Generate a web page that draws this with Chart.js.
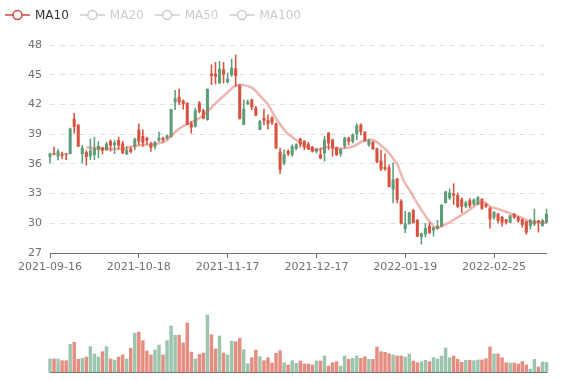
<!DOCTYPE html>
<html>
<head>
<meta charset="utf-8">
<script src="https://cdn.jsdelivr.net/npm/chart.js@4"></script>
<style>
  html, body { margin: 0; padding: 0; background: #fff; }
  #wrap { position: relative; width: 577px; height: 380px; }
  #kline { position: absolute; left: 0; top: 0; }
  #vol { position: absolute; left: 0; top: 285px; }
</style>
</head>
<body>
<div id="wrap">
  <canvas id="kline" width="577" height="285"></canvas>
  <canvas id="vol" width="577" height="95"></canvas>
</div>
<script>
// trading days (HOSE), ticks every 22 sessions
const dates = [
  '2021-09-16','2021-09-17','2021-09-20','2021-09-21','2021-09-22','2021-09-23','2021-09-24','2021-09-27','2021-09-28','2021-09-29',
  '2021-09-30','2021-10-01','2021-10-04','2021-10-05','2021-10-06','2021-10-07','2021-10-08','2021-10-11','2021-10-12','2021-10-13',
  '2021-10-14','2021-10-15','2021-10-18','2021-10-19','2021-10-20','2021-10-21','2021-10-22','2021-10-25','2021-10-26','2021-10-27',
  '2021-10-28','2021-10-29','2021-11-01','2021-11-02','2021-11-03','2021-11-04','2021-11-05','2021-11-08','2021-11-09','2021-11-10',
  '2021-11-11','2021-11-12','2021-11-15','2021-11-16','2021-11-17','2021-11-18','2021-11-19','2021-11-22','2021-11-23','2021-11-24',
  '2021-11-25','2021-11-26','2021-11-29','2021-11-30','2021-12-01','2021-12-02','2021-12-03','2021-12-06','2021-12-07','2021-12-08',
  '2021-12-09','2021-12-10','2021-12-13','2021-12-14','2021-12-15','2021-12-16','2021-12-17','2021-12-20','2021-12-21','2021-12-22',
  '2021-12-23','2021-12-24','2021-12-27','2021-12-28','2021-12-29','2021-12-30','2021-12-31','2022-01-04','2022-01-05','2022-01-06',
  '2022-01-07','2022-01-10','2022-01-11','2022-01-12','2022-01-13','2022-01-14','2022-01-17','2022-01-18','2022-01-19','2022-01-20',
  '2022-01-21','2022-01-24','2022-01-25','2022-01-26','2022-01-27','2022-01-28','2022-02-07','2022-02-08','2022-02-09','2022-02-10',
  '2022-02-11','2022-02-14','2022-02-15','2022-02-16','2022-02-17','2022-02-18','2022-02-21','2022-02-22','2022-02-23','2022-02-24',
  '2022-02-25','2022-02-28','2022-03-01','2022-03-02','2022-03-03','2022-03-04','2022-03-07','2022-03-08','2022-03-09','2022-03-10',
  '2022-03-11','2022-03-14','2022-03-15','2022-03-16'
];

const open = [
  36.7,37.05,36.77,37.0,37.03,37.03,40.53,39.93,37.03,37.17,
  36.77,36.93,37.43,37.6,37.43,38.27,37.93,38.37,38.03,37.0,
  37.5,37.76,39.44,38.77,38.6,38.03,37.76,38.37,38.6,38.6,
  38.77,42.24,42.74,42.37,42.14,40.05,39.78,42.14,41.36,40.45,
  45.1,45.07,44.16,45.5,44.26,45.0,45.6,43.9,39.95,42.04,
  42.47,41.63,39.44,40.62,40.39,40.62,40.05,37.2,36.08,37.26,
  36.92,37.53,38.5,38.27,38.0,37.7,37.27,36.93,37.1,39.1,
  38.43,37.6,37.03,37.83,38.6,38.27,39.03,39.93,39.2,37.93,
  38.17,37.53,36.3,35.65,35.6,33.45,34.5,32.23,29.45,29.95,
  31.3,30.3,28.63,28.9,29.7,29.28,29.45,29.7,32.06,32.56,
  32.97,32.83,32.4,31.73,32.3,31.93,31.93,32.43,31.93,31.5,
  30.6,30.93,30.6,30.37,30.1,30.93,30.6,30.37,30.17,29.77,
  29.93,30.27,29.77,30.1
];
const close = [
  37.0,36.95,37.23,36.87,36.93,39.53,39.77,37.77,37.6,36.73,
  37.33,37.53,37.77,37.37,38.0,37.87,38.1,37.87,37.1,37.37,
  37.25,38.5,38.27,38.16,38.37,37.66,38.16,38.6,38.43,38.84,
  41.46,42.58,42.24,42.07,39.95,39.71,41.36,41.3,40.62,43.55,
  44.9,44.83,45.57,45.07,44.56,45.67,44.9,40.6,41.53,42.24,
  41.73,40.9,40.29,40.39,40.05,40.19,37.59,35.45,36.92,37.02,
  37.76,37.93,38.0,37.7,37.5,37.27,37.5,36.6,38.43,38.1,
  37.6,36.93,37.43,38.6,38.27,38.93,39.83,39.27,38.37,38.33,
  37.53,36.2,35.5,35.48,33.7,34.4,32.4,30.0,29.95,31.05,
  30.05,28.7,28.94,29.5,29.04,29.55,29.7,31.83,33.17,33.06,
  32.83,31.7,31.73,32.06,31.8,32.37,32.6,31.5,31.7,30.43,
  31.1,30.27,30.1,30.1,30.77,30.6,30.27,29.87,29.1,30.27,
  30.27,30.1,30.27,30.93
];
const low = [
  36.1,36.9,36.4,36.5,36.43,37.0,39.1,37.77,36.1,35.87,
  36.43,36.43,36.6,37.0,37.33,37.27,37.03,37.5,37.03,36.93,
  37.1,37.42,37.93,37.76,38.0,37.26,37.5,38.27,38.2,38.5,
  38.7,41.46,41.97,41.53,39.95,39.1,39.71,41.13,40.52,40.4,
  44.0,44.06,44.16,44.16,44.16,44.83,43.8,40.5,39.95,41.97,
  41.46,40.86,39.44,39.95,39.5,39.95,37.59,35.0,35.9,36.82,
  36.75,37.42,37.7,37.43,37.43,37.17,37.1,36.5,36.27,37.43,
  36.77,36.83,36.77,37.6,37.93,38.1,38.43,38.93,38.27,37.77,
  37.43,36.1,35.3,35.35,33.67,32.06,32.06,29.9,29.04,29.9,
  30.05,28.63,27.9,28.63,28.97,28.7,29.38,29.7,32.06,32.4,
  31.9,31.56,31.06,31.56,31.6,31.8,31.85,31.4,31.6,29.5,
  30.4,30.0,29.7,29.9,30.05,30.5,30.1,29.6,28.9,29.4,
  29.77,29.1,29.7,30.0
];
const high = [
  37.1,37.7,37.5,37.2,37.03,39.6,41.1,39.93,37.87,37.33,
  38.5,38.67,38.27,37.7,38.2,38.43,38.37,38.7,38.27,37.77,
  37.67,38.6,40.05,39.44,38.7,38.2,38.27,39.2,38.7,38.94,
  41.53,43.42,43.55,42.47,42.14,40.29,41.63,42.3,41.53,43.55,
  46.0,46.25,46.35,46.25,45.17,46.58,47.0,44.0,42.47,42.47,
  42.54,41.8,40.39,41.53,40.96,40.8,40.12,37.6,37.42,37.42,
  37.93,38.03,38.6,38.37,38.17,37.77,37.6,37.6,38.77,39.17,
  38.5,37.7,37.53,38.7,38.7,39.03,40.03,40.03,39.27,38.5,
  38.27,37.6,37.4,37.0,35.9,36.1,34.5,32.4,31.2,31.12,
  31.4,30.4,29.04,30.0,30.05,29.6,30.3,31.9,33.23,33.47,
  34.0,33.06,32.56,32.23,32.5,32.5,32.7,32.5,32.0,31.6,
  31.2,31.0,30.7,30.4,30.8,31.0,30.7,30.45,30.2,30.4,
  31.43,30.3,30.4,31.43
];
const volume = [
  133,133,133,116,116,280,300,130,140,153,
  256,183,153,206,256,133,123,153,173,133,
  240,390,403,316,213,173,223,273,173,316,
  463,370,370,293,493,203,133,180,193,573,
  376,233,363,193,173,313,306,340,226,86,
  146,223,156,116,146,93,190,216,96,73,
  116,90,113,83,83,73,113,113,163,63,
  96,106,63,163,130,140,163,140,156,130,
  130,253,206,200,186,173,163,163,153,183,
  113,96,106,120,106,146,133,163,243,146,
  163,130,100,120,120,116,123,123,136,253,
  183,183,146,96,93,93,83,106,73,33,
  130,53,103,100
];
const ma10 = [
  null,null,null,null,null,null,null,null,null,37.65,
  37.63,37.6,37.56,37.54,37.52,37.5,37.5,37.5,37.5,37.6,
  37.75,37.8,37.85,37.9,37.93,37.96,38.0,38.08,38.17,38.4,
  38.8,39.2,39.55,39.8,40.0,40.2,40.4,40.6,40.95,41.3,
  41.7,42.1,42.5,42.85,43.2,43.6,43.9,43.98,43.95,43.85,
  43.7,43.35,42.9,42.45,42.0,41.3,40.55,40.0,39.45,39.0,
  38.7,38.4,38.1,37.85,37.6,37.45,37.4,37.5,37.65,37.7,
  37.65,37.6,37.55,37.6,37.65,37.75,37.95,38.2,38.35,38.42,
  38.4,38.2,37.85,37.5,37.1,36.5,36.0,34.9,34.0,33.4,
  32.7,32.0,31.35,30.75,30.2,29.7,29.55,29.7,29.9,30.1,
  30.35,30.6,30.85,31.1,31.4,31.7,32.0,32.15,32.05,31.7,
  31.55,31.45,31.3,31.15,31.0,30.85,30.7,30.55,30.35,30.15,
  30.1,30.08,30.06,30.05
];
const legendNames = ['MA10', 'MA20', 'MA50', 'MA100'];
const legendActive = [true, false, false, false];
const yTicks = { min: 27, max: 48, step: 3 };

const UP = '#5b9e77';
const DOWN = '#d6523e';
const UP_VOL = 'rgba(91,158,119,0.6)';
const DOWN_VOL = 'rgba(214,82,62,0.65)';
const MA_COLOR = '#d0483f';
const AXIS = '#6E7079';
const FONT = '"DejaVu Sans", sans-serif';

Chart.defaults.font.family = FONT;

const isUp = dates.map((d, i) => close[i] >= open[i]);
const candleColors = isUp.map(u => u ? UP : DOWN);
const volColors = isUp.map(u => u ? UP_VOL : DOWN_VOL);

// legend like the echarts one: line + hollow circle, inactive items greyed
const legendPlugin = {
  id: 'maLegend',
  afterDraw(chart) {
    const c = chart.ctx;
    c.save();
    c.font = '12px ' + FONT;
    c.textBaseline = 'middle';
    let x = 5;
    const y = 15;
    legendNames.forEach((name, i) => {
      const col = legendActive[i] ? MA_COLOR : '#ccc';
      c.strokeStyle = col;
      c.lineWidth = 1.5;
      c.beginPath();
      c.moveTo(x, y);
      c.lineTo(x + 25, y);
      c.stroke();
      c.beginPath();
      c.arc(x + 12.5, y, 4.5, 0, Math.PI * 2);
      c.fillStyle = '#fff';
      c.fill();
      c.stroke();
      c.fillStyle = legendActive[i] ? '#333' : '#ccc';
      c.fillText(name, x + 30, y + 0.5);
      x += 30 + c.measureText(name).width + 11;
    });
    c.restore();
  }
};

new Chart(document.getElementById('kline'), {
  type: 'bar',
  data: {
    labels: dates,
    datasets: [
      {
        type: 'line',
        label: 'MA10',
        data: ma10,
        borderColor: 'rgba(214,90,80,0.45)',
        borderWidth: 2.5,
        pointRadius: 0,
        tension: 0.4,
        order: 0
      },
      {
        label: 'body',
        data: dates.map((d, i) => [open[i], close[i]]),
        backgroundColor: candleColors,
        barThickness: 2.4,
        minBarLength: 1,
        grouped: false,
        clip: false,
        order: 1
      },
      {
        label: 'wick',
        data: dates.map((d, i) => [low[i], high[i]]),
        backgroundColor: candleColors,
        barThickness: 0.9,
        grouped: false,
        clip: false,
        order: 2
      }
    ]
  },
  options: {
    responsive: false,
    animation: false,
    layout: { padding: { left: 0, right: 30.5, top: 45, bottom: 0 } },
    plugins: { legend: { display: false }, tooltip: { enabled: false } },
    scales: {
      x: {
        offset: false,
        ticks: { autoSkip: false, maxRotation: 0, color: AXIS, font: { size: 11 }, padding: 3 },
        afterBuildTicks: s => { s.ticks = s.ticks.filter(t => t.value % 22 === 0); },
        grid: { drawOnChartArea: false, drawTicks: true, tickLength: 5, tickColor: AXIS, offset: false },
        border: { display: true, color: AXIS },
        afterFit: s => { s.height = 32; }
      },
      y: {
        min: yTicks.min,
        max: yTicks.max,
        ticks: { stepSize: yTicks.step, color: AXIS, font: { size: 11 }, padding: 8 },
        grid: { color: '#dedede', drawTicks: false },
        border: { display: false, dash: [5, 5] },
        afterFit: s => { s.width = 50; }
      }
    }
  },
  plugins: [legendPlugin]
});

new Chart(document.getElementById('vol'), {
  type: 'bar',
  data: {
    labels: dates,
    datasets: [{
      label: 'Volume',
      data: volume,
      backgroundColor: volColors,
      barThickness: 2.8,
      clip: false
    }]
  },
  options: {
    responsive: false,
    animation: false,
    layout: { padding: { left: 50, right: 30.5, top: 15, bottom: 0 } },
    plugins: { legend: { display: false }, tooltip: { enabled: false } },
    scales: {
      x: {
        offset: false,
        ticks: { display: false },
        grid: { drawOnChartArea: false, drawTicks: false, offset: false },
        border: { display: true, color: AXIS },
        afterFit: s => { s.height = 7.7; }
      },
      y: { display: false, min: 0, max: 723 }
    }
  }
});
</script>
</body>
</html>
